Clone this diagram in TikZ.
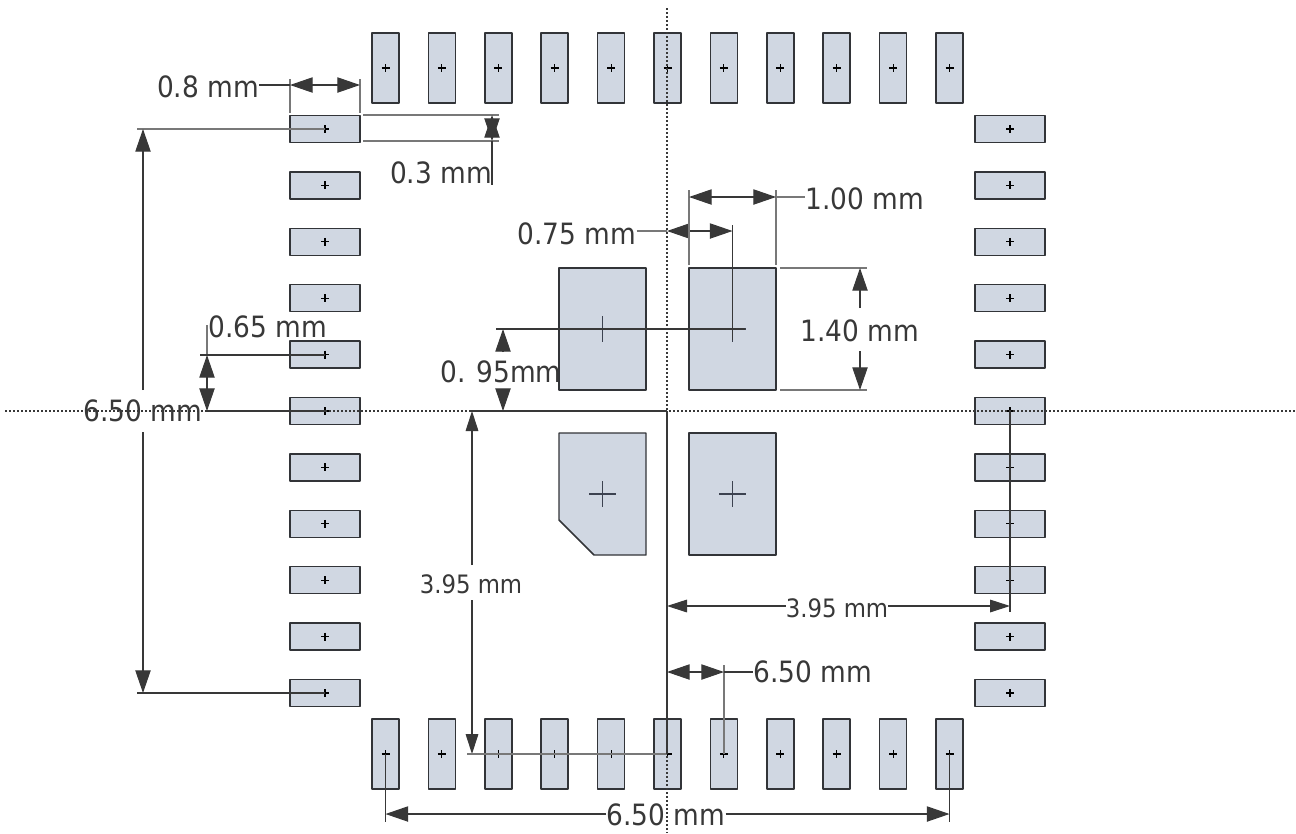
\documentclass[tikz,border=0pt]{standalone}
\usepackage{fontspec}
\setmainfont{DejaVu Sans Condensed}
\usetikzlibrary{arrows.meta}
\definecolor{padfill}{RGB}{208,215,226}
\definecolor{dimcolor}{RGB}{56,56,56}
\definecolor{extcolor}{RGB}{120,120,120}
\tikzset{
  pad/.style={draw={rgb,255:red,50;green,52;blue,56},fill=padfill,line width=1.1pt,line join=round},
  padcross/.style={draw=black,line width=0.8pt},
  bigcross/.style={draw={rgb,255:red,60;green,66;blue,80},line width=1.2pt},
  centerline/.style={draw=dimcolor,line width=1pt,dash pattern={on 1.4pt off 1.6pt}},
  dimline/.style={draw=dimcolor,line width=0.8pt},
  extline/.style={draw=extcolor,line width=1.2pt},
  bothtips/.style={{Triangle[length=17pt,width=11.5pt]}-{Triangle[length=17pt,width=11.5pt]}},
  endtip/.style={-{Triangle[length=17pt,width=11.5pt]}},
  smalltip/.style={-{Triangle[length=15pt,width=9.5pt]}},
  biglabel/.style={text=dimcolor,inner sep=0pt,font=\fontsize{22}{24}\selectfont},
  smalllabel/.style={text=dimcolor,inner sep=0pt,font=\fontsize{19}{21}\selectfont}
}
\begin{document}
\begin{tikzpicture}[x=0.75pt,y=0.75pt,yscale=-1,xscale=1]
\useasboundingbox (0,0) rectangle (1296,833);

%Pads, top and bottom rows
\foreach \n in {0,...,10} {
  \pgfmathsetmacro{\px}{385.5+56.4*\n}
  \draw [pad] (\px-13.5,33) rectangle (\px+13.5,103);
  \draw [padcross] (\px-4,68) -- (\px+4,68) (\px,64) -- (\px,72);
  \draw [pad] (\px-13.5,719) rectangle (\px+13.5,789);
  \draw [padcross] (\px-4,754) -- (\px+4,754) (\px,750) -- (\px,758);
}
%Pads, left and right columns
\foreach \n in {0,...,10} {
  \pgfmathsetmacro{\py}{129+56.4*\n}
  \draw [pad] (290,\py-13.5) rectangle (360,\py+13.5);
  \draw [padcross] (321,\py) -- (329,\py) (325,\py-4) -- (325,\py+4);
  \draw [pad] (975,\py-13.5) rectangle (1045,\py+13.5);
  \draw [padcross] (1006,\py) -- (1014,\py) (1010,\py-4) -- (1010,\py+4);
}

%Centre pads
\draw [pad] (559,268) rectangle (646,390);
\draw [pad] (689,268) rectangle (776,390);
\draw [pad] (559,433) -- (646,433) -- (646,555) -- (594,555) -- (559,520) -- cycle;
\draw [pad] (689,433) rectangle (776,555);
\draw [bigcross] (589,329) -- (616,329) (602.5,316) -- (602.5,342);
\draw [bigcross] (719,329) -- (746,329) (732.5,316) -- (732.5,342);
\draw [bigcross] (589,494) -- (616,494) (602.5,481) -- (602.5,507);
\draw [bigcross] (719,494) -- (746,494) (732.5,481) -- (732.5,507);

%Centre lines
\draw [centerline] (667,8) -- (667,833);
\draw [centerline] (5,411) -- (1296,411);

% Text Node
\draw (208,87) node (txtPadLength) [biglabel] {0.8 mm};
% Text Node
\draw (441,173) node (txtPadWidth) [biglabel] {0.3 mm};
% Text Node
\draw (268,327) node (txtPitch) [biglabel] {0.65 mm};
% Text Node
\draw (143,411) node (txtSpanLeft) [biglabel] {6.50 mm};
% Text Node
\draw (501,372) node (txtGapY) [biglabel] {0. 95mm};
% Text Node
\draw (577,234) node (txtGapX) [biglabel] {0.75 mm};
% Text Node
\draw (865,199) node (txtEpadWidth) [biglabel] {1.00 mm};
% Text Node
\draw (860,331) node (txtEpadHeight) [biglabel] {1.40 mm};
% Text Node
\draw (471,584) node (txtRowLeft) [smalllabel] {3.95 mm};
% Text Node
\draw (837,608) node (txtRowRight) [smalllabel] {3.95 mm};
% Text Node
\draw (813,672) node (txtCenterPad) [biglabel] {6.50 mm};
% Text Node
\draw (666,815) node (txtSpanBottom) [biglabel] {6.50 mm};

%Pad length
\draw [extline] (290,79) -- (290,113) (360,79) -- (360,113);
\draw [dimline] (txtPadLength.east |- 0,85) -- (290,85);
\draw [dimline,bothtips] (290,85) -- (360,85);
%Pad width
\draw [extline] (363,115) -- (499,115) (363,141) -- (499,141);
\draw [dimline,bothtips] (492,115) -- (492,141);
\draw [dimline] (492,141) -- (492,185);
%Span, left side
\draw [extline] (137,129) -- (325,129);
\draw [dimline] (137,693) -- (325,693);
\draw [dimline,endtip] (143,390) -- (143,129);
\draw [dimline,endtip] (143,432) -- (143,693);
%Pitch
\draw [extline] (207,325) -- (207,355);
\draw [dimline] (200,355) -- (325,355);
\draw [dimline] (207,411) -- (325,411);
\draw [dimline,bothtips] (207,355) -- (207,411);
%Centre gap, vertical
\draw [dimline] (496,329) -- (745,329);
\draw [dimline] (470,411) -- (667,411);
\draw [dimline,endtip] (503,352) -- (503,329);
\draw [dimline,endtip] (503,389) -- (503,411);
%Centre gap, horizontal
\draw [extline] (txtGapX.east |- 0,231) -- (667,231);
\draw [dimline,bothtips] (667,231) -- (732.5,231);
\draw [dimline] (732.5,225) -- (732.5,340);
%Centre pad width
\draw [extline] (689,190) -- (689,265) (776,190) -- (776,265);
\draw [dimline,bothtips] (689,197) -- (776,197);
\draw [extline] (776,197) -- (txtEpadWidth.west |- 0,197);
%Centre pad height
\draw [extline] (780,268) -- (867,268) (780,390) -- (867,390);
\draw [dimline,endtip] (860,308) -- (860,268);
\draw [dimline,endtip] (860,351) -- (860,390);
%Row offset, left
\draw [dimline,smalltip] (472,565) -- (472,411);
\draw [dimline,smalltip] (472,600) -- (472,754);
\draw [extline] (467,754) -- (667,754);
%Row offset, right
\draw [dimline] (667,411) -- (667,754);
\draw [dimline] (1010,411) -- (1010,612);
\draw [dimline,smalltip] (txtRowRight.west |- 0,606) -- (667,606);
\draw [dimline,smalltip] (txtRowRight.east |- 0,606) -- (1010,606);
%Centre pin
\draw [extline] (724,665) -- (724,754);
\draw [dimline,bothtips] (667,672) -- (724,672);
\draw [dimline] (724,672) -- (txtCenterPad.west |- 0,672);
%Span, bottom
\draw [dimline] (385.5,754) -- (385.5,822) (949.5,754) -- (949.5,822);
\draw [dimline,endtip] (txtSpanBottom.west |- 0,814) -- (385.5,814);
\draw [dimline,endtip] (txtSpanBottom.east |- 0,814) -- (949.5,814);

\end{tikzpicture}
\end{document}
